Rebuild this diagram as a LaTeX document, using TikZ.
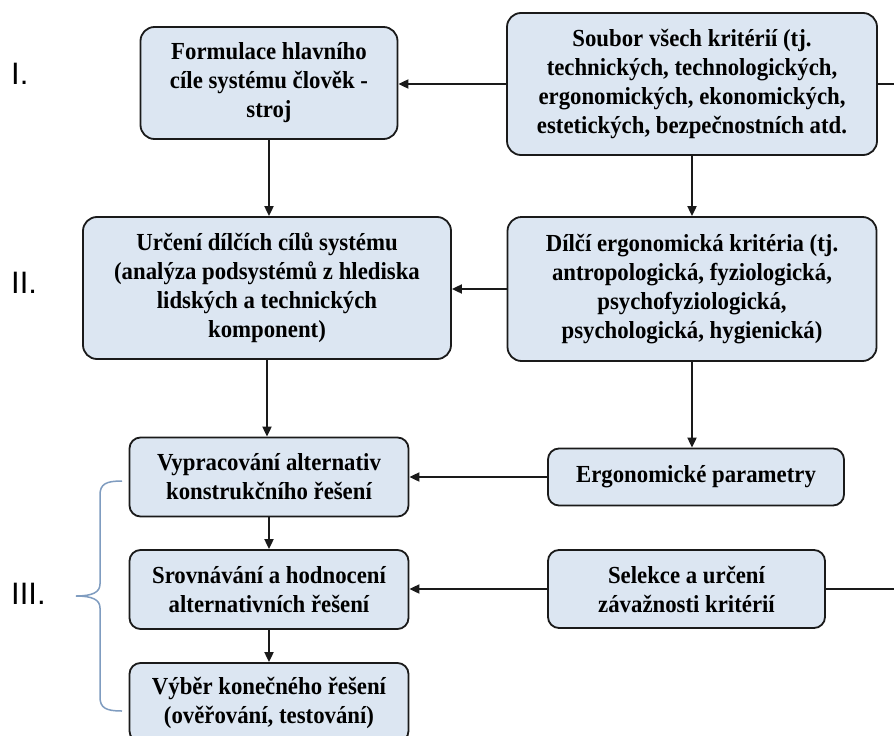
\documentclass[tikz,border=0pt]{standalone}
\usepackage{fontspec}
\setmainfont{Liberation Serif}[FakeStretch=0.93]
\newfontfamily\labelfont{Liberation Sans}
\usetikzlibrary{arrows.meta}
\definecolor{boxfill}{HTML}{DCE6F2}
\definecolor{boxline}{HTML}{1A1A1A}
\definecolor{bracecol}{HTML}{7F9CC0}
\begin{document}
\begin{tikzpicture}[x=1pt,y=-1pt,
  stagebox/.style={draw=boxline, line width=1.8pt, fill=boxfill, rounded corners=14pt,
    align=center, inner sep=0pt, font=\fontsize{24.5}{29}\selectfont\bfseries},
  smallbox/.style={stagebox, rounded corners=11pt},
  arr/.style={line width=1.9pt, draw=boxline, -{Triangle[length=10pt,width=9pt]}},
  plain/.style={line width=1.9pt, draw=boxline},
  stagelabel/.style={anchor=base west, inner sep=0pt, font=\labelfont\fontsize{31}{31}\selectfont}]
\useasboundingbox (0,0) rectangle (894,736);
\fill[white] (0,0) rectangle (894,736);

% stage labels
\node[stagelabel] (l1) at (11,84) {I.};
\node[stagelabel] (l2) at (11,293) {II.};
\node[stagelabel] (l3) at (11,604) {III.};

% boxes
\node[stagebox, minimum width=257pt, minimum height=112pt] (A) at (269,83)
  {Formulace hlavního\\cíle systému člověk -\\stroj};
\node[stagebox, minimum width=370pt, minimum height=142pt] (B) at (692,84)
  {Soubor všech kritérií (tj.\\technických, technologických,\\ergonomických, ekonomických,\\estetických, bezpečnostních atd.};
\node[stagebox, minimum width=368pt, minimum height=142pt] (C) at (267,288)
  {Určení dílčích cílů systému\\(analýza podsystémů z hlediska\\lidských a technických\\komponent)};
\node[stagebox, minimum width=369pt, minimum height=144pt] (D) at (692,289)
  {Dílčí ergonomická kritéria (tj.\\antropologická, fyziologická,\\psychofyziologická,\\psychologická, hygienická)};
\node[smallbox, minimum width=279pt, minimum height=79pt] (E) at (269,477)
  {Vypracování alternativ\\konstrukčního řešení};
\node[smallbox, minimum width=296pt, minimum height=57pt] (F) at (696,477)
  {Ergonomické parametry};
\node[smallbox, minimum width=279pt, minimum height=79pt] (G) at (269,589.5)
  {Srovnávání a hodnocení\\alternativních řešení};
\node[smallbox, minimum width=277pt, minimum height=78pt] (H) at (686.5,589)
  {Selekce a určení\\závažnosti kritérií};
\node[smallbox, minimum width=279pt, minimum height=79pt] (I) at (269,702.5)
  {Výběr konečného řešení\\(ověřování, testování)};

% free ends running off to the right
\coordinate (Bout) at (894,84);
\coordinate (Hout) at (894,589);

% connectors
\draw[arr] (B.west) -- (B.west -| A.east);
\draw[arr] (A.south) -- (A.south |- C.north);
\draw[arr] (B.south) -- (B.south |- D.north);
\draw[arr] (D.west) -- (D.west -| C.east);
\draw[arr] (C.south) -- (C.south |- E.north);
\draw[arr] (D.south) -- (D.south |- F.north);
\draw[arr] (F.west) -- (F.west -| E.east);
\draw[arr] (E.south) -- (G.north);
\draw[arr] (G.south) -- (I.north);
\draw[arr] (H.west) -- (H.west -| G.east);
\draw[plain] (B.east) -- (Bout);
\draw[plain] (H.east) -- (Hout);

% brace grouping stage III
\draw[bracecol, line width=1.5pt]
  (122,481) .. controls (106,481) and (100,484) .. (100,495)
  -- (100,584) .. controls (100,592) and (93,596) .. (76,596)
  .. controls (93,596) and (100,600) .. (100,608)
  -- (100,697) .. controls (100,708) and (106,711) .. (122,711);
\end{tikzpicture}
\end{document}
